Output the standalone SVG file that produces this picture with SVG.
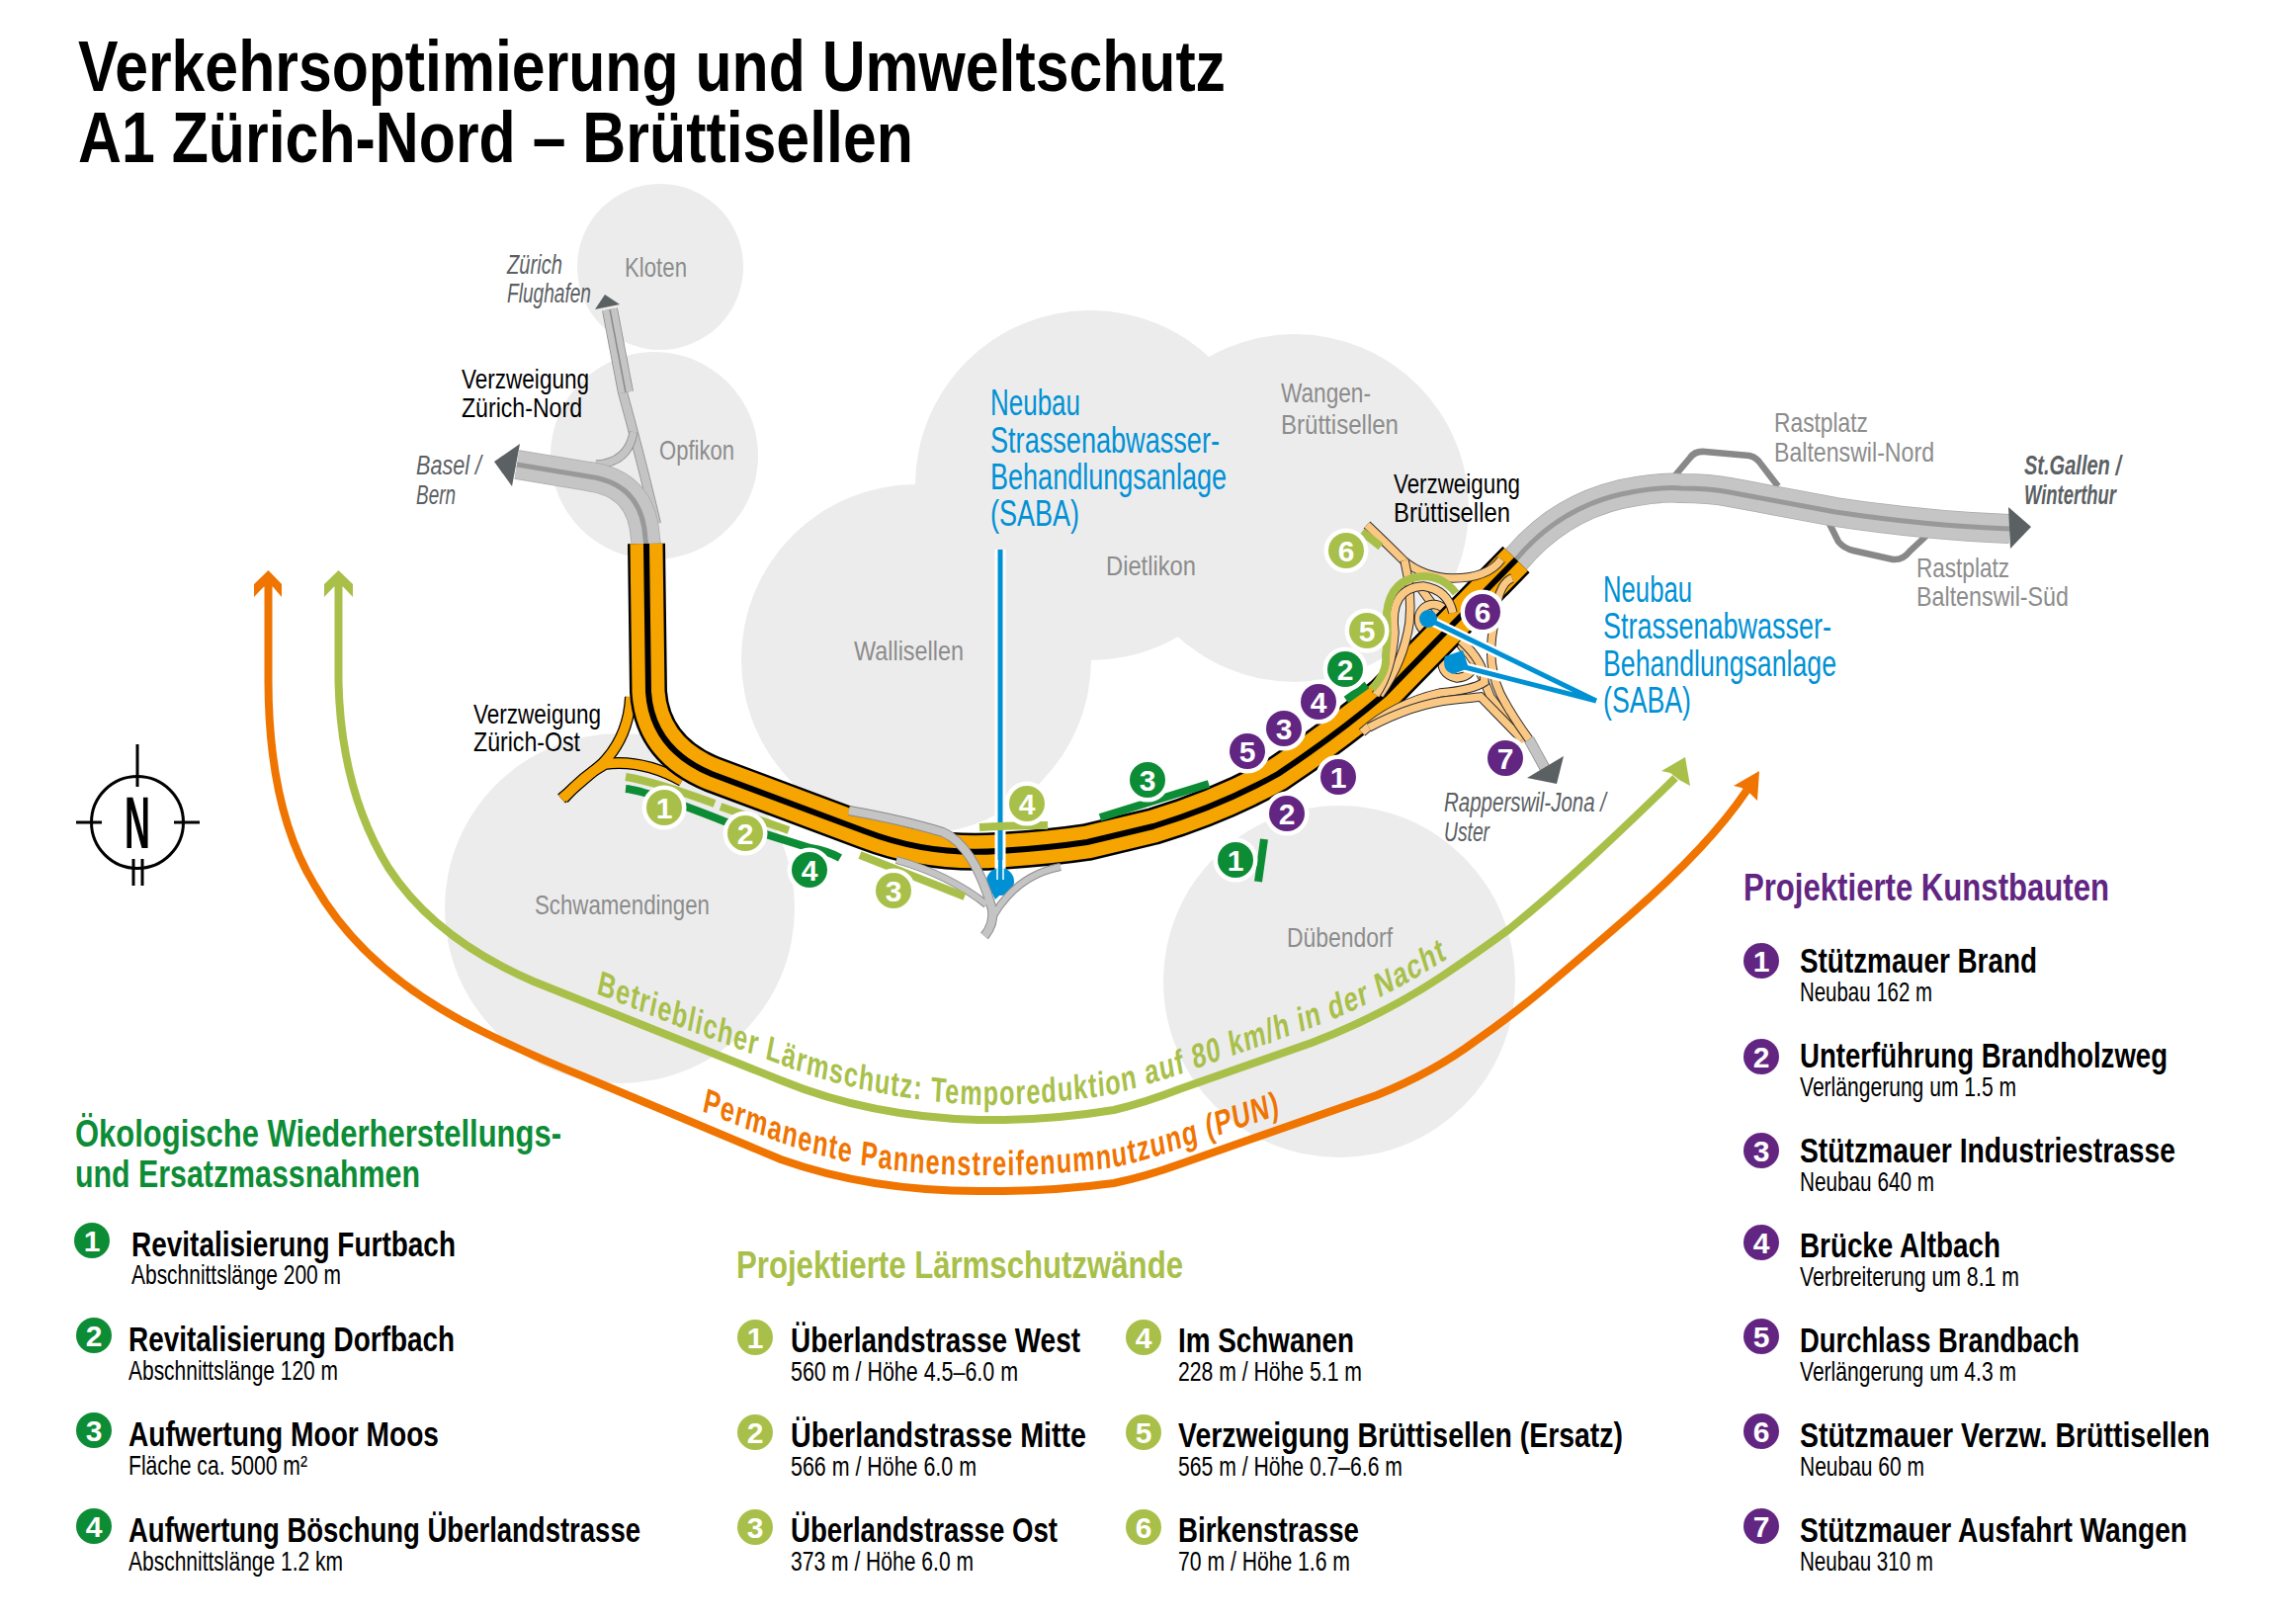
<svg xmlns="http://www.w3.org/2000/svg" xmlns:xlink="http://www.w3.org/1999/xlink" width="2323" height="1642" viewBox="0 0 2323 1642">
<style>
text{font-family:"Liberation Sans Narrow","Liberation Sans",sans-serif}
.town{fill:#ececec}
.tl{font-size:28px;fill:#8c8c8c}
.it{font-size:27px;fill:#5b6063;font-style:italic}
.vz{font-size:28px;fill:#000}
.sb{font-size:36px;fill:#0091d5}
.h{font-size:39px;font-weight:bold}
.ti{font-size:35px;font-weight:bold;fill:#000}
.su{font-size:28px;fill:#000}
.n{font-size:30px;font-weight:bold;fill:#fff;text-anchor:middle}
.pu{fill:#622582}.gr{fill:#0d8c36}.li{fill:#a8c04a}
.halo{stroke:#fff;stroke-width:9;paint-order:stroke}
.bar{fill:none;stroke-width:8}
.lime{stroke:#a8c04a}.dg{stroke:#0d8c36}
.long{fill:none;stroke-width:8}
.ramp{fill:none}
.rk{stroke:#2b2b2b;stroke-width:9.5}
.ro{stroke:#fbc884;stroke-width:7.5}
</style>
<defs>
<path id="lt" d="M837.5 1005 L958 1040 L1097 1077 Q1222 1112 1375 1118 Q1472 1118 1565 1107 Q1611 1098 1657 1087 L1843 1040 Q1944 1012 2037.5 968 L2080 945"/>
<path id="ot" d="M986 1124 L1097 1156 Q1222 1189 1375 1189 Q1472 1190 1565 1181 Q1611 1174 1657 1162 L1801 1127 L1840 1116"/>
<path id="hw" d="M654 550 L656 700 Q660 758 720 783 L875 841 Q940 866 1010 861 Q1060 858 1100 852 L1167 836 Q1236 815 1293 783 Q1353 743 1400 703 L1534 566"/>
<path id="r1" d="M1383 531 Q1403 550 1420 567 Q1440 584 1470 585 Q1505 585 1519 566"/>
<path id="r2" d="M1421 567 Q1429 600 1426 630 Q1420 670 1396 703"/>
<path id="r3" d="M1392 703 Q1408 680 1411 640 Q1405 595 1440 593 Q1465 597 1470 620"/>
<path id="r4" d="M1460 615 A15 15 0 1 0 1462 636"/>
<path id="r5" d="M1438 596 Q1460 625 1480 655 Q1495 670 1508 705 L1542 750"/>
<path id="r6" d="M1378 741 Q1410 712 1457 701 Q1490 698 1502 690 Q1502 670 1478 648"/>
<path id="r7" d="M1385 736 Q1430 712 1470 708 Q1490 706 1498 705 L1540 748"/>
<path id="r8" d="M1460 662 Q1455 682 1474 686 Q1488 685 1492 672"/>
<path id="r9" d="M1530 585 Q1515 590 1512 630 Q1503 670 1518 702 Q1530 725 1547 748"/>
</defs>
<rect width="2323" height="1642" fill="#fff"/>

<g id="title"><text x="79" y="92" font-size="72" font-weight="bold" textLength="1161" lengthAdjust="spacingAndGlyphs">Verkehrsoptimierung und Umweltschutz</text><text x="79" y="164" font-size="72" font-weight="bold" textLength="845" lengthAdjust="spacingAndGlyphs">A1 Zürich-Nord – Brüttisellen</text></g>

<g id="towns">
<circle id="c-kloten" class="town" cx="668" cy="270" r="84"/>
<circle id="c-opfikon" class="town" cx="662" cy="461" r="105"/>
<circle id="c-schwamendingen" class="town" cx="627" cy="919" r="177"/>
<circle id="c-wallisellen" class="town" cx="927" cy="667" r="177"/>
<circle id="c-dietlikon" class="town" cx="1103" cy="491" r="177"/>
<circle id="c-wangen" class="town" cx="1310" cy="514" r="176"/>
<circle id="c-duebendorf" class="town" cx="1355" cy="993" r="178"/>
</g>

<g id="compass" fill="none" stroke="#000" stroke-width="3">
<circle cx="139" cy="832" r="46.5"/>
<path d="M139 753V796M77 832H103M176 832H202M135 869V896M144 869V896"/>
<text x="126" y="858" font-size="75" font-weight="bold" fill="#000" stroke="none" textLength="26" lengthAdjust="spacingAndGlyphs">N</text>
</g>

<g id="connectors">
<path id="noise-orange" class="long" stroke="#f07400" d="M271.5 590 L271.5 690 Q272 820 318 895 Q370 986 489 1044 Q540 1069 590 1089 L790 1173 Q880 1205 990 1205 Q1060 1206 1127 1197 Q1160 1190 1193 1178 L1393 1108 Q1450 1085 1493 1053 Q1530 1027 1560 1002 Q1610 960 1650 925 Q1730 855 1767 800"/>
<polygon points="271.5,577 257,591 257,604 267,593.5 276,593.5 285,604 285,591" fill="#f07400"/>
<polygon points="1780,780 1754,795 1762,797 1771,803 1778,810" fill="#f07400"/>
<path id="noise-lime" class="long" stroke="#a8c04a" d="M342.5 590 L342.5 690 Q345 800 393 878 Q440 950 540 993 L790 1093 Q880 1130 990 1133 Q1060 1134 1127 1123 Q1160 1115 1193 1102 L1327 1055 Q1400 1027 1460 987 Q1500 960 1527 940 Q1570 905 1610 868 Q1650 831 1695 787"/>
<polygon points="342.5,577 328,591 328,604 338,593.5 347,593.5 357,604 357,591" fill="#a8c04a"/>
<polygon points="1705,766 1681,780 1690,782 1699,789 1710,795" fill="#a8c04a"/>

<g id="grey-north" fill="none">
<path d="M664 530 Q650 470 630 397" stroke="#8a8a8a" stroke-width="10"/>
<path d="M664 530 Q650 470 630 397" stroke="#c4c4c4" stroke-width="8.5"/>
<path d="M641 437 Q636 468 603 470" stroke="#8a8a8a" stroke-width="9"/>
<path d="M641 437 Q636 468 603 470" stroke="#c4c4c4" stroke-width="7.5"/>
<path d="M633 397 L617 313" stroke="#8a8a8a" stroke-width="16"/>
<path d="M633 397 L617 313" stroke="#c6c5c6" stroke-width="14.5"/>
<path d="M633 397 L617 313" stroke="#8a8a8a" stroke-width="1.5"/>
<path d="M654 552 L653 545 Q650 489 595 482 L523 470" stroke="#aaa" stroke-width="30"/>
<path d="M654 552 L653 545 Q650 489 595 482 L523 470" stroke="#c6c5c6" stroke-width="28.5"/>
<path d="M654 552 L653 545 Q650 489 595 482 L523 470" stroke="#999" stroke-width="5"/>
</g>
<polygon points="526,449 500,467 518,492" fill="#5b6063"/>
<polygon points="602,313 612,298 627,308" fill="#5b6063"/>

<g id="grey-east" fill="none">
<path d="M1694 482 L1710 463 Q1715 456 1725 457 L1770 461 Q1778 463 1782 470 L1799 492" stroke="#888" stroke-width="6.5"/>
<path d="M1850 528 L1860 548 Q1866 555 1875 557 L1915 566 Q1925 567 1932 558 L1949 542" stroke="#888" stroke-width="6.5"/>
<path d="M1533 567 Q1576 515 1640 500 Q1680 492 1701 494 Q1730 494 1750 498 L1857 518 Q1950 532 2033 535" stroke="#aaa" stroke-width="30"/>
<path d="M1533 567 Q1576 515 1640 500 Q1680 492 1701 494 Q1730 494 1750 498 L1857 518 Q1950 532 2033 535" stroke="#c6c5c6" stroke-width="28.5"/>
<path d="M1533 567 Q1576 515 1640 500 Q1680 492 1701 494 Q1730 494 1750 498 L1857 518 Q1950 532 2033 535" stroke="#999" stroke-width="5"/>
</g>
<polygon points="2032,513 2055,533 2034,555" fill="#5b6063"/>

<g id="rappi-end" fill="none">
<path d="M1547 748 L1563 777" stroke="#8a8a8a" stroke-width="11"/>
<path d="M1547 748 L1563 777" stroke="#c4c4c4" stroke-width="9.5"/>
</g>
<polygon points="1545,787 1582,765 1575,793" fill="#5b6063"/>

<g id="zuerich-ost-ramps" fill="none">
<path d="M638 705 Q636 745 610 772 L568 808" stroke="#000" stroke-width="12"/>
<path d="M690 790 Q650 768 612 773 Q590 785 570 808" stroke="#000" stroke-width="12"/>
<path d="M638 705 Q636 745 610 772 L568 808" stroke="#f5a400" stroke-width="9.5"/>
<path d="M690 790 Q650 768 612 773 Q590 785 570 808" stroke="#f5a400" stroke-width="9.5"/>
</g>

<g id="under-ramps" class="ramp">
<use href="#r5" class="rk"/><use href="#r5" class="ro"/>
<use href="#r4" class="rk"/><use href="#r4" class="ro"/>
<use href="#r8" class="rk"/><use href="#r8" class="ro"/>
</g>

<g id="highway" fill="none">
<use href="#hw" stroke="#000" stroke-width="38"/>
<use href="#hw" stroke="#f5a400" stroke-width="33"/>
<use href="#hw" stroke="#000" stroke-width="6"/>
</g>

<g id="over-ramps" class="ramp">
<use href="#r1" class="rk"/><use href="#r1" class="ro"/>
<use href="#r2" class="rk"/><use href="#r2" class="ro"/>
<use href="#r3" class="rk"/><use href="#r3" class="ro"/>
<use href="#r6" class="rk"/><use href="#r6" class="ro"/>
<use href="#r7" class="rk"/><use href="#r7" class="ro"/>
<use href="#r9" class="rk"/><use href="#r9" class="ro"/>
</g>

<g id="blue-left">
<path d="M1012 556 V884" stroke="#fff" stroke-width="11" fill="none"/>
<circle cx="1012" cy="892" r="14" fill="#0091d5"/>
<path d="M1012 556 V890" stroke="#0091d5" stroke-width="5" fill="none"/>
<path d="M1009 870 V890 M1015 870 V890" stroke="#fff" stroke-width="1.5" fill="none"/>
<polygon points="998,892 1026,892 1007,910" fill="#0091d5"/>
</g>

<g id="grey-junction" fill="none">
<path d="M859 820 Q915 830 954 842 Q985 855 1004 920 Q1006 935 996 947" stroke="#8a8a8a" stroke-width="10"/>
<path d="M907 870 Q960 885 998 915" stroke="#8a8a8a" stroke-width="8"/>
<path d="M1073 877 Q1030 885 1006 925" stroke="#8a8a8a" stroke-width="8"/>
<path d="M859 820 Q915 830 954 842 Q985 855 1004 920 Q1006 935 996 947" stroke="#c4c4c4" stroke-width="8"/>
<path d="M907 870 Q960 885 998 915" stroke="#c4c4c4" stroke-width="6"/>
<path d="M1073 877 Q1030 885 1006 925" stroke="#c4c4c4" stroke-width="6"/>
</g>

<g id="bars">
<path class="bar lime" d="M633 786 Q660 790 723 813"/>
<path class="bar lime" d="M729 816 L798 840"/>
<path class="bar dg" d="M633 798 Q655 800 733 831 L820 858 Q838 861 850 868"/>
<path class="bar lime" d="M870 865 L976 907"/>
<path class="bar lime" d="M991 837 Q1025 835 1060 835"/>
<path class="bar dg" d="M1113 827 L1223 793"/>
<path class="bar dg" d="M1279 849 L1273 892"/>
<path class="bar dg" d="M1362 708 L1383 693"/>
<path class="bar lime" d="M1388 697 Q1404 680 1402 663 Q1405 640 1403 620 Q1407 585 1440 583 Q1460 583 1473 600"/>
<path class="bar lime" d="M1378 538 L1397 553"/>
</g>

<g id="blue-right" fill="none">
<path d="M1446 627 L1615 709 M1474 673 L1615 709" stroke="#fff" stroke-width="10"/>
<circle cx="1445" cy="626" r="9" fill="#0091d5"/>
<path d="M1462 664 L1480 658 L1486 676 L1470 682 Q1458 678 1462 664Z" fill="#0091d5"/>
<path d="M1446 627 L1615 709 M1474 673 L1615 709" stroke="#0091d5" stroke-width="5"/>
</g>
</g>

<g id="badge-lime-1"><circle class="li halo" cx="672" cy="817" r="18"/><text class="n" x="672" y="828">1</text></g>
<g id="badge-lime-2"><circle class="li halo" cx="754" cy="843" r="18"/><text class="n" x="754" y="854">2</text></g>
<g id="badge-lime-3"><circle class="li halo" cx="904" cy="901" r="18"/><text class="n" x="904" y="912">3</text></g>
<g id="badge-lime-4"><circle class="li halo" cx="1039" cy="813" r="18"/><text class="n" x="1039" y="824">4</text></g>
<g id="badge-lime-5"><circle class="li halo" cx="1383" cy="638" r="18"/><text class="n" x="1383" y="649">5</text></g>
<g id="badge-lime-6"><circle class="li halo" cx="1362" cy="557" r="18"/><text class="n" x="1362" y="568">6</text></g>
<g id="badge-green-1"><circle class="gr halo" cx="1250" cy="870" r="18"/><text class="n" x="1250" y="881">1</text></g>
<g id="badge-green-2"><circle class="gr halo" cx="1361" cy="677" r="18"/><text class="n" x="1361" y="688">2</text></g>
<g id="badge-green-3"><circle class="gr halo" cx="1161" cy="789" r="18"/><text class="n" x="1161" y="800">3</text></g>
<g id="badge-green-4"><circle class="gr halo" cx="819" cy="880" r="18"/><text class="n" x="819" y="891">4</text></g>
<g id="badge-purple-1"><circle class="pu halo" cx="1354" cy="786" r="18"/><text class="n" x="1354" y="797">1</text></g>
<g id="badge-purple-2"><circle class="pu halo" cx="1302" cy="823" r="18"/><text class="n" x="1302" y="834">2</text></g>
<g id="badge-purple-3"><circle class="pu halo" cx="1299" cy="737" r="18"/><text class="n" x="1299" y="748">3</text></g>
<g id="badge-purple-4"><circle class="pu halo" cx="1334" cy="710" r="18"/><text class="n" x="1334" y="721">4</text></g>
<g id="badge-purple-5"><circle class="pu halo" cx="1262" cy="760" r="18"/><text class="n" x="1262" y="771">5</text></g>
<g id="badge-purple-6"><circle class="pu halo" cx="1500" cy="619" r="18"/><text class="n" x="1500" y="630">6</text></g>
<g id="badge-purple-7"><circle class="pu halo" cx="1523" cy="767" r="18"/><text class="n" x="1523" y="778">7</text></g>

<g id="map-labels">
<text class="tl" x="632" y="280" textLength="63" lengthAdjust="spacingAndGlyphs">Kloten</text>
<text class="tl" x="667" y="465" textLength="76" lengthAdjust="spacingAndGlyphs">Opfikon</text>
<text class="tl" x="864" y="668" textLength="111" lengthAdjust="spacingAndGlyphs">Wallisellen</text>
<text class="tl" x="1119" y="582" textLength="91" lengthAdjust="spacingAndGlyphs">Dietlikon</text>
<text class="tl" x="1296" y="407" textLength="91" lengthAdjust="spacingAndGlyphs">Wangen-</text>
<text class="tl" x="1296" y="439" textLength="119" lengthAdjust="spacingAndGlyphs">Brüttisellen</text>
<text class="tl" x="1302" y="958" textLength="107" lengthAdjust="spacingAndGlyphs">Dübendorf</text>
<text class="tl" x="541" y="925" textLength="177" lengthAdjust="spacingAndGlyphs">Schwamendingen</text>
<text class="tl" x="1795" y="437" textLength="95" lengthAdjust="spacingAndGlyphs">Rastplatz</text>
<text class="tl" x="1795" y="467" textLength="162" lengthAdjust="spacingAndGlyphs">Baltenswil-Nord</text>
<text class="tl" x="1939" y="584" textLength="94" lengthAdjust="spacingAndGlyphs">Rastplatz</text>
<text class="tl" x="1939" y="613" textLength="154" lengthAdjust="spacingAndGlyphs">Baltenswil-Süd</text>
<text class="it" x="513" y="277" textLength="56" lengthAdjust="spacingAndGlyphs">Zürich</text>
<text class="it" x="513" y="306" textLength="85" lengthAdjust="spacingAndGlyphs">Flughafen</text>
<text class="it" x="421" y="480" textLength="66" lengthAdjust="spacingAndGlyphs">Basel /</text>
<text class="it" x="421" y="510" textLength="40" lengthAdjust="spacingAndGlyphs">Bern</text>
<text class="it" x="2048" y="480" textLength="98" lengthAdjust="spacingAndGlyphs" font-weight="bold">St.Gallen /</text>
<text class="it" x="2048" y="510" textLength="93" lengthAdjust="spacingAndGlyphs" font-weight="bold">Winterthur</text>
<text class="it" x="1461" y="821" textLength="164" lengthAdjust="spacingAndGlyphs">Rapperswil-Jona /</text>
<text class="it" x="1461" y="851" textLength="46" lengthAdjust="spacingAndGlyphs">Uster</text>
<text class="vz" x="467" y="393" textLength="129" lengthAdjust="spacingAndGlyphs">Verzweigung</text>
<text class="vz" x="467" y="422" textLength="122" lengthAdjust="spacingAndGlyphs">Zürich-Nord</text>
<text class="vz" x="479" y="732" textLength="129" lengthAdjust="spacingAndGlyphs">Verzweigung</text>
<text class="vz" x="479" y="760" textLength="108" lengthAdjust="spacingAndGlyphs">Zürich-Ost</text>
<text class="vz" x="1410" y="499" textLength="128" lengthAdjust="spacingAndGlyphs">Verzweigung</text>
<text class="vz" x="1410" y="528" textLength="118" lengthAdjust="spacingAndGlyphs">Brüttisellen</text>
<text class="sb" x="1002" y="420" textLength="91" lengthAdjust="spacingAndGlyphs">Neubau</text>
<text class="sb" x="1002" y="458" textLength="232" lengthAdjust="spacingAndGlyphs">Strassenabwasser-</text>
<text class="sb" x="1002" y="495" textLength="239" lengthAdjust="spacingAndGlyphs">Behandlungsanlage</text>
<text class="sb" x="1002" y="532" textLength="90" lengthAdjust="spacingAndGlyphs">(SABA)</text>
<text class="sb" x="1622" y="609" textLength="90" lengthAdjust="spacingAndGlyphs">Neubau</text>
<text class="sb" x="1622" y="646" textLength="231" lengthAdjust="spacingAndGlyphs">Strassenabwasser-</text>
<text class="sb" x="1622" y="684" textLength="236" lengthAdjust="spacingAndGlyphs">Behandlungsanlage</text>
<text class="sb" x="1622" y="721" textLength="89" lengthAdjust="spacingAndGlyphs">(SABA)</text>
</g>

<g id="curve-labels" font-size="35" font-weight="bold" transform="scale(.72 1)">
<text fill="#a8c04a" textLength="1230" lengthAdjust="spacing"><textPath href="#lt">Betrieblicher Lärmschutz: Temporeduktion auf 80 km/h in der Nacht</textPath></text>
<text fill="#f07400" textLength="826" lengthAdjust="spacing"><textPath href="#ot">Permanente Pannenstreifenumnutzung (PUN)</textPath></text>
</g>

<g id="legend-eco">
<text class="h" fill="#0d8c36" x="76" y="1160" textLength="492" lengthAdjust="spacingAndGlyphs">Ökologische Wiederherstellungs-</text>
<text class="h" fill="#0d8c36" x="76" y="1201" textLength="349" lengthAdjust="spacingAndGlyphs">und Ersatzmassnahmen</text>
<g id="eco-1"><circle class="gr" cx="93" cy="1255" r="18"/><text class="n" x="93" y="1266">1</text><text class="ti" x="133" y="1271" textLength="328" lengthAdjust="spacingAndGlyphs">Revitalisierung Furtbach</text><text class="su" x="133" y="1299" textLength="212" lengthAdjust="spacingAndGlyphs">Abschnittslänge 200 m</text></g>
<g id="eco-2"><circle class="gr" cx="95" cy="1351" r="18"/><text class="n" x="95" y="1362">2</text><text class="ti" x="130" y="1367" textLength="330" lengthAdjust="spacingAndGlyphs">Revitalisierung Dorfbach</text><text class="su" x="130" y="1396" textLength="212" lengthAdjust="spacingAndGlyphs">Abschnittslänge 120 m</text></g>
<g id="eco-3"><circle class="gr" cx="95" cy="1447" r="18"/><text class="n" x="95" y="1458">3</text><text class="ti" x="130" y="1463" textLength="314" lengthAdjust="spacingAndGlyphs">Aufwertung Moor Moos</text><text class="su" x="130" y="1492" textLength="181" lengthAdjust="spacingAndGlyphs">Fläche ca. 5000 m²</text></g>
<g id="eco-4"><circle class="gr" cx="95" cy="1544" r="18"/><text class="n" x="95" y="1555">4</text><text class="ti" x="130" y="1560" textLength="518" lengthAdjust="spacingAndGlyphs">Aufwertung Böschung Überlandstrasse</text><text class="su" x="130" y="1589" textLength="217" lengthAdjust="spacingAndGlyphs">Abschnittslänge 1.2 km</text></g>
</g>

<g id="legend-noise">
<text class="h" fill="#a8c04a" x="745" y="1293" textLength="452" lengthAdjust="spacingAndGlyphs">Projektierte Lärmschutzwände</text>
<g id="noise-1"><circle class="li" cx="764" cy="1353" r="18"/><text class="n" x="764" y="1364">1</text><text class="ti" x="800" y="1368" textLength="293" lengthAdjust="spacingAndGlyphs">Überlandstrasse West</text><text class="su" x="800" y="1397" textLength="230" lengthAdjust="spacingAndGlyphs">560 m / Höhe 4.5–6.0 m</text></g>
<g id="noise-2"><circle class="li" cx="764" cy="1449" r="18"/><text class="n" x="764" y="1460">2</text><text class="ti" x="800" y="1464" textLength="299" lengthAdjust="spacingAndGlyphs">Überlandstrasse Mitte</text><text class="su" x="800" y="1493" textLength="188" lengthAdjust="spacingAndGlyphs">566 m / Höhe 6.0 m</text></g>
<g id="noise-3"><circle class="li" cx="764" cy="1545" r="18"/><text class="n" x="764" y="1556">3</text><text class="ti" x="800" y="1560" textLength="270" lengthAdjust="spacingAndGlyphs">Überlandstrasse Ost</text><text class="su" x="800" y="1589" textLength="185" lengthAdjust="spacingAndGlyphs">373 m / Höhe 6.0 m</text></g>
<g id="noise-4"><circle class="li" cx="1157" cy="1353" r="18"/><text class="n" x="1157" y="1364">4</text><text class="ti" x="1192" y="1368" textLength="178" lengthAdjust="spacingAndGlyphs">Im Schwanen</text><text class="su" x="1192" y="1397" textLength="186" lengthAdjust="spacingAndGlyphs">228 m / Höhe 5.1 m</text></g>
<g id="noise-5"><circle class="li" cx="1157" cy="1449" r="18"/><text class="n" x="1157" y="1460">5</text><text class="ti" x="1192" y="1464" textLength="450" lengthAdjust="spacingAndGlyphs">Verzweigung Brüttisellen (Ersatz)</text><text class="su" x="1192" y="1493" textLength="227" lengthAdjust="spacingAndGlyphs">565 m / Höhe 0.7–6.6 m</text></g>
<g id="noise-6"><circle class="li" cx="1157" cy="1545" r="18"/><text class="n" x="1157" y="1556">6</text><text class="ti" x="1192" y="1560" textLength="183" lengthAdjust="spacingAndGlyphs">Birkenstrasse</text><text class="su" x="1192" y="1589" textLength="174" lengthAdjust="spacingAndGlyphs">70 m / Höhe 1.6 m</text></g>
</g>

<g id="legend-works">
<text class="h" fill="#622582" x="1764" y="911" textLength="370" lengthAdjust="spacingAndGlyphs">Projektierte Kunstbauten</text>
<g id="work-1"><circle class="pu" cx="1782" cy="972" r="18"/><text class="n" x="1782" y="983">1</text><text class="ti" x="1821" y="984" textLength="240" lengthAdjust="spacingAndGlyphs">Stützmauer Brand</text><text class="su" x="1821" y="1013" textLength="134" lengthAdjust="spacingAndGlyphs">Neubau 162 m</text></g>
<g id="work-2"><circle class="pu" cx="1782" cy="1069" r="18"/><text class="n" x="1782" y="1080">2</text><text class="ti" x="1821" y="1080" textLength="372" lengthAdjust="spacingAndGlyphs">Unterführung Brandholzweg</text><text class="su" x="1821" y="1109" textLength="219" lengthAdjust="spacingAndGlyphs">Verlängerung um 1.5 m</text></g>
<g id="work-3"><circle class="pu" cx="1782" cy="1164" r="18"/><text class="n" x="1782" y="1175">3</text><text class="ti" x="1821" y="1176" textLength="380" lengthAdjust="spacingAndGlyphs">Stützmauer Industriestrasse</text><text class="su" x="1821" y="1205" textLength="136" lengthAdjust="spacingAndGlyphs">Neubau 640 m</text></g>
<g id="work-4"><circle class="pu" cx="1782" cy="1257" r="18"/><text class="n" x="1782" y="1268">4</text><text class="ti" x="1821" y="1272" textLength="203" lengthAdjust="spacingAndGlyphs">Brücke Altbach</text><text class="su" x="1821" y="1301" textLength="222" lengthAdjust="spacingAndGlyphs">Verbreiterung um 8.1 m</text></g>
<g id="work-5"><circle class="pu" cx="1782" cy="1352" r="18"/><text class="n" x="1782" y="1363">5</text><text class="ti" x="1821" y="1368" textLength="283" lengthAdjust="spacingAndGlyphs">Durchlass Brandbach</text><text class="su" x="1821" y="1397" textLength="219" lengthAdjust="spacingAndGlyphs">Verlängerung um 4.3 m</text></g>
<g id="work-6"><circle class="pu" cx="1782" cy="1448" r="18"/><text class="n" x="1782" y="1459">6</text><text class="ti" x="1821" y="1464" textLength="415" lengthAdjust="spacingAndGlyphs">Stützmauer Verzw. Brüttisellen</text><text class="su" x="1821" y="1493" textLength="126" lengthAdjust="spacingAndGlyphs">Neubau 60 m</text></g>
<g id="work-7"><circle class="pu" cx="1782" cy="1544" r="18"/><text class="n" x="1782" y="1555">7</text><text class="ti" x="1821" y="1560" textLength="392" lengthAdjust="spacingAndGlyphs">Stützmauer Ausfahrt Wangen</text><text class="su" x="1821" y="1589" textLength="135" lengthAdjust="spacingAndGlyphs">Neubau 310 m</text></g>
</g>
</svg>
